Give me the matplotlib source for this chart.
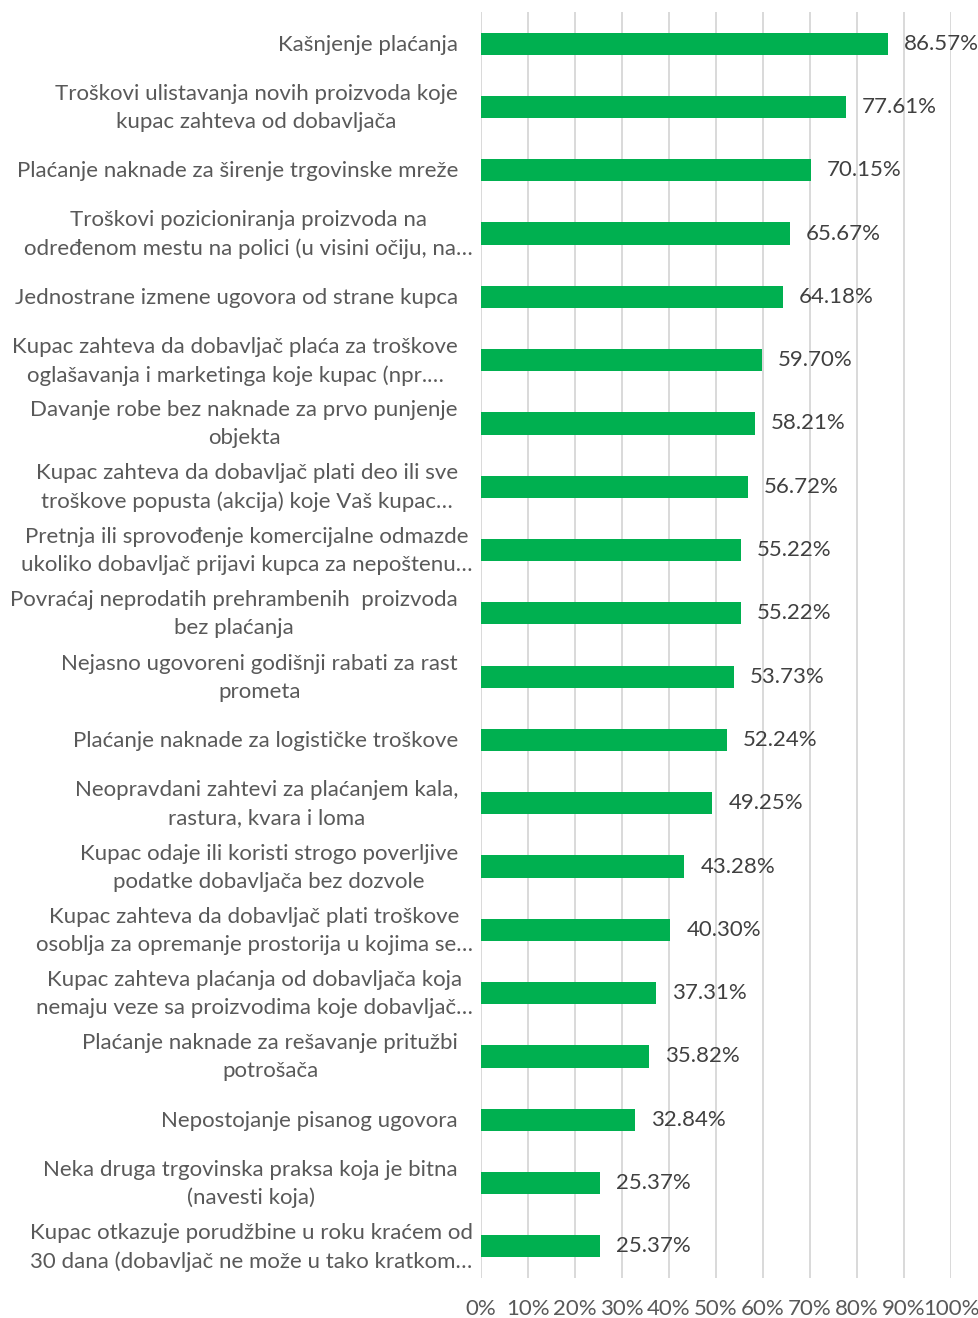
import matplotlib
matplotlib.use("Agg")
import matplotlib.pyplot as plt
import matplotlib.transforms as mtransforms

labels = [
    "Kašnjenje plaćanja",
    "Troškovi ulistavanja novih proizvoda koje\nkupac zahteva od dobavljača",
    "Plaćanje naknade za širenje trgovinske mreže",
    "Troškovi pozicioniranja proizvoda na\nodređenom mestu na polici (u visini očiju, na…",
    "Jednostrane izmene ugovora od strane kupca",
    "Kupac zahteva da dobavljač plaća za troškove\noglašavanja i marketinga koje kupac (npr.…",
    "Davanje robe bez naknade za prvo punjenje\nobjekta",
    "Kupac zahteva da dobavljač plati deo ili sve\ntroškove popusta (akcija) koje Vaš kupac…",
    "Pretnja ili sprovođenje komercijalne odmazde\nukoliko dobavljač prijavi kupca za nepoštenu…",
    "Povraćaj neprodatih prehrambenih  proizvoda\nbez plaćanja",
    "Nejasno ugovoreni godišnji rabati za rast\nprometa",
    "Plaćanje naknade za logističke troškove",
    "Neopravdani zahtevi za plaćanjem kala,\nrastura, kvara i loma",
    "Kupac odaje ili koristi strogo poverljive\npodatke dobavljača bez dozvole",
    "Kupac zahteva da dobavljač plati troškove\nosoblja za opremanje prostorija u kojima se…",
    "Kupac zahteva plaćanja od dobavljača koja\nnemaju veze sa proizvodima koje dobavljač…",
    "Plaćanje naknade za rešavanje pritužbi\npotrošača",
    "Nepostojanje pisanog ugovora",
    "Neka druga trgovinska praksa koja je bitna\n(navesti koja)",
    "Kupac otkazuje porudžbine u roku kraćem od\n30 dana (dobavljač ne može u tako kratkom…",
]
values = [86.57, 77.61, 70.15, 65.67, 64.18, 59.70, 58.21, 56.72, 55.22, 55.22,
          53.73, 52.24, 49.25, 43.28, 40.30, 37.31, 35.82, 32.84, 25.37, 25.37]

plt.rcParams['font.family'] = ['Lato', 'DejaVu Sans']
fs = 16

fig = plt.figure(figsize=(9.79, 13.18), dpi=100)
ax = fig.add_axes([481/979, 1 - 1278/1318, 470/979, 1266/1318])

y = list(range(len(values)))
ax.barh(y, values, height=0.35, color='#00B050', zorder=3)
ax.set_xlim(0, 100)
ax.set_ylim(len(values) - 0.5, -0.5)
ax.set_xticks(range(0, 101, 10))
ax.set_xticklabels([f"{t}%" for t in range(0, 101, 10)], fontsize=fs, color='#595959')
ax.tick_params(axis='x', length=0, pad=15)
ax.set_yticks([])
ax.grid(axis='x', color='#d9d9d9', linewidth=1.4, zorder=0)
for s in ax.spines.values():
    s.set_visible(False)

trans = mtransforms.blended_transform_factory(ax.transAxes, ax.transData)
for i, (lab, v) in enumerate(zip(labels, values)):
    # truncated line (with ellipsis) overflows a bit to the right when it's the widest
    lines = lab.split("\n")
    xoff = -23
    if lab.endswith("…") and len(lines[-1]) >= len(lines[0]):
        xoff = -8
    ax.annotate(lab, xy=(0, i), xycoords=trans, xytext=(xoff, -1),
                textcoords='offset pixels', ha='right', va='center',
                multialignment='center', fontsize=fs, color='#595959',
                linespacing=1.5)
    ax.annotate(f"{v:.2f}%", xy=(v, i), xytext=(16, 0),
                textcoords='offset pixels', ha='left', va='center',
                fontsize=fs, color='#404040')

fig.savefig("out.png", dpi=100)
